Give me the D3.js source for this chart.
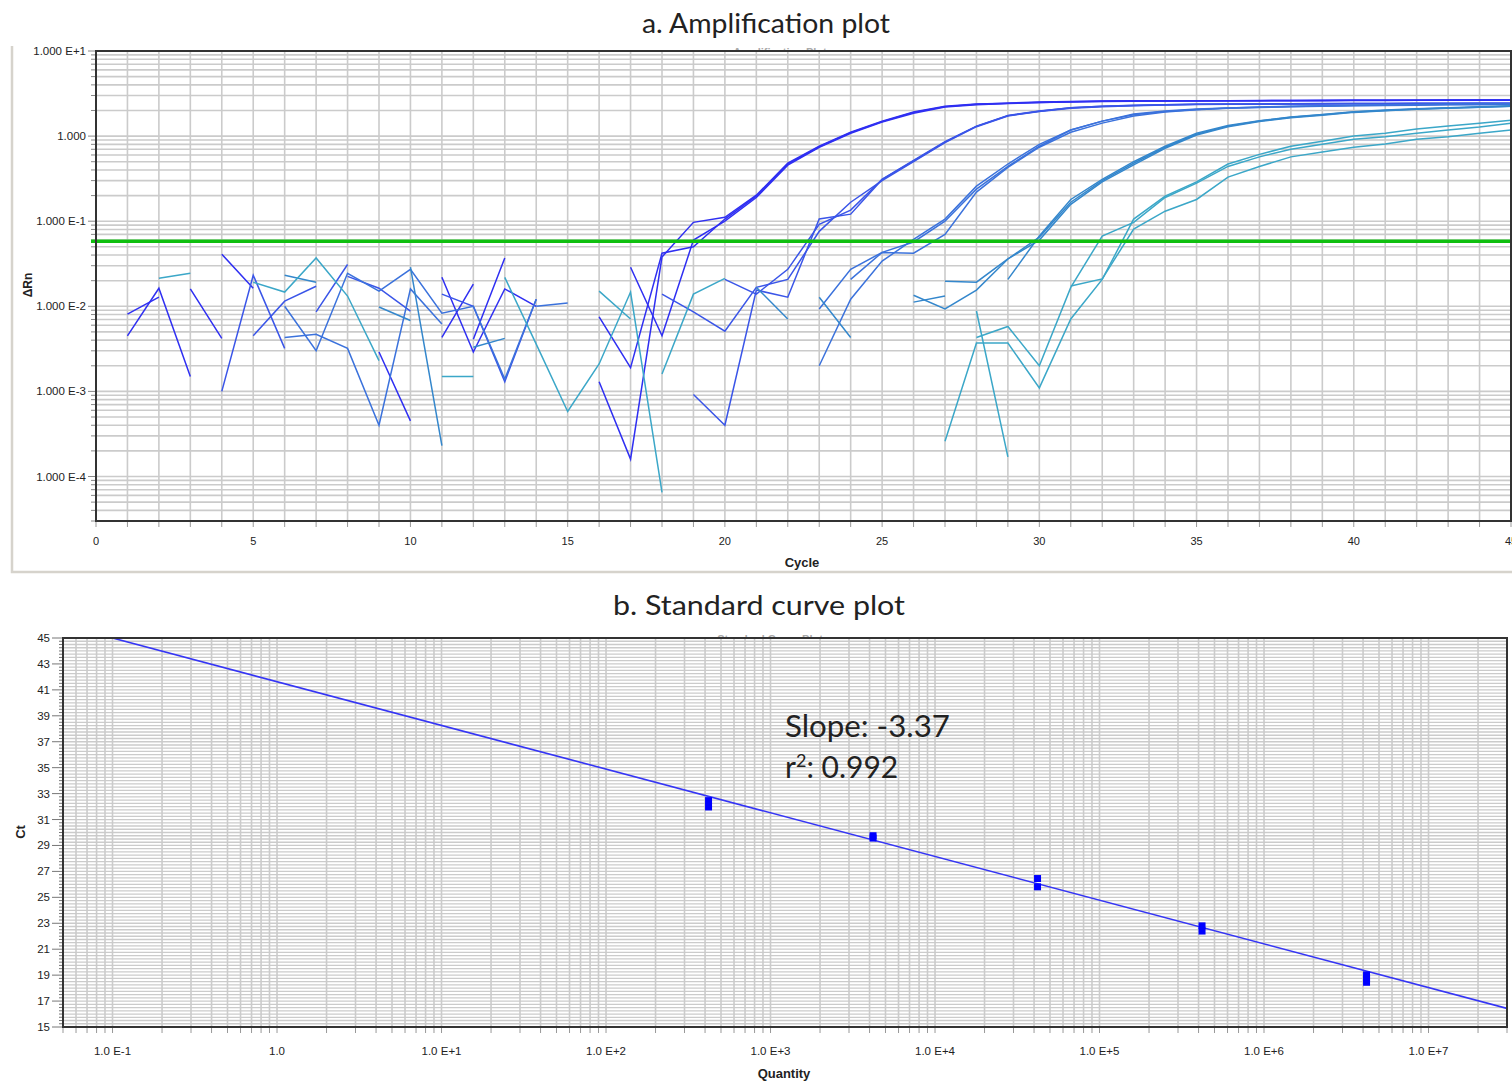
<!DOCTYPE html>
<html>
<head>
<meta charset="utf-8">
<script src="https://cdn.jsdelivr.net/npm/d3@7"></script>
<style>
  body { margin: 0; background: #fff; }
  svg { display: block; }
  .tick-label { font-family: "Liberation Sans", Arial, sans-serif; font-size: 11.5px; fill: #222; }
  .axis-title { font-family: "Liberation Sans", Arial, sans-serif; font-size: 13px; font-weight: bold; fill: #222; }
  .title { font-family: Lato, "Open Sans", sans-serif; font-size: 27px; fill: #222; }
</style>
</head>
<body>
<svg id="chart" width="1512" height="1082"></svg>
<script>
var _ = null;

// ---- a. amplification plot: delta Rn per cycle (1..45), null = not plotted (<= 0)
var cycles = d3.range(1, 46);
var threshold = 0.058;

var g1a = [0.0045,0.0163,0.0015,_,_,_,_,_,_,_, 0.0043,0.0182,_,_,_,0.0013,0.00016,0.038,0.097,0.111, 0.202,0.48,0.76,1.11,1.50,1.92,2.25,2.38,2.44,2.51, 2.55,2.58,2.60,2.60,2.61,2.61,2.62,2.62,2.63,2.63, 2.64,2.64,2.65,2.65,2.65];
var g1b = [0.0081,0.0128,_,0.041,0.0163,_,_,_,0.0029,0.00045, _,0.0041,0.037,_,_,_,0.0288,0.0045,0.060,0.100, 0.19,0.456,0.74,1.08,1.46,1.86,2.20,2.34,2.42,2.48, 2.52,2.55,2.57,2.58,2.59,2.60,2.60,2.61,2.61,2.62, 2.62,2.63,2.63,2.64,2.64];
var g1c = [_,_,0.016,0.0042,_,_,_,_,_,_, 0.0219,0.0029,0.016,0.0100,_,0.0075,0.0019,0.042,0.050,0.106, 0.197,0.47,0.75,1.10,1.48,1.90,2.22,2.36,2.43,2.49, 2.53,2.56,2.58,2.59,2.60,2.60,2.61,2.62,2.62,2.63, 2.63,2.64,2.64,2.65,2.65];
var g2a = [_,_,_,0.0010,0.0232,0.0032,_,0.0225,0.0163,0.0088, _,_,_,_,_,_,_,_,0.00092,0.0004, 0.0155,0.0128,0.106,0.121,0.31,0.52,0.86,1.31,1.75,1.97, 2.16,2.25,2.30,2.34,2.37,2.38,2.39,2.40,2.41,2.42, 2.42,2.43,2.43,2.44,2.44];
var g2b = [_,_,_,_,0.0045,0.0115,0.0172,_,_,_, 0.0139,0.0100,0.0013,0.0121,_,_,_,0.0139,0.0086,0.0051, 0.0167,0.0207,0.076,0.167,0.30,0.50,0.84,1.29,1.72,1.95, 2.13,2.22,2.28,2.32,2.35,2.36,2.37,2.38,2.39,2.40, 2.40,2.41,2.41,2.42,2.42];
var g2c = [_,_,_,_,_,_,0.0086,0.031,_,_, _,_,_,_,_,_,_,_,_,0.0207, 0.0139,0.0272,0.092,0.135,0.31,0.51,0.85,1.30,1.74,1.96, 2.15,2.24,2.29,2.33,2.36,2.37,2.38,2.39,2.40,2.41, 2.41,2.42,2.42,2.43,2.43];
var g3a = [_,_,_,_,_,0.0100,0.0030,0.0244,0.0151,0.0272, 0.0083,0.0100,0.0014,0.0121,_,_,_,_,_,_, _,_,0.0093,0.0272,0.043,0.057,0.100,0.238,0.44,0.76, 1.18,1.50,1.82,1.97,2.08,2.14,2.19,2.23,2.26,2.29, 2.31,2.33,2.35,2.36,2.37];
var g3b = [_,_,_,_,_,0.0043,0.0047,0.0032,0.0004,0.016, 0.0062,_,_,_,_,_,_,_,_,_, _,_,_,0.0207,0.043,0.042,0.070,0.22,0.43,0.74, 1.11,1.42,1.72,1.92,2.04,2.12,2.17,2.21,2.24,2.27, 2.29,2.31,2.33,2.34,2.35];
var g3c = [_,_,_,_,_,_,_,_,_,_, _,_,_,0.0100,0.0109,_,_,_,_,_, _,_,0.0020,0.0121,0.034,0.061,0.106,0.258,0.47,0.80, 1.18,1.50,1.78,1.95,2.06,2.14,2.20,2.24,2.28,2.31, 2.33,2.35,2.37,2.38,2.40];
var g4a = [_,_,_,_,_,_,_,_,0.0098,0.0068, _,0.0033,0.0042,_,_,_,_,_,_,_, _,_,_,_,_,0.0135,0.0093,0.0155,0.036,0.065, 0.167,0.30,0.48,0.74,1.05,1.31,1.50,1.66,1.78,1.92, 2.00,2.08,2.14,2.19,2.25];
var g4b = [_,_,_,_,_,0.0232,0.0192,_,_,0.0288, 0.00023,_,_,_,_,_,_,_,_,_, _,_,0.0128,0.0043,_,0.0112,0.0132,_,0.0207,0.067, 0.18,0.31,0.50,0.76,1.08,1.33,1.52,1.68,1.80,1.93, 2.02,2.10,2.16,2.21,2.27];
var g4c = [_,_,_,_,_,_,_,_,_,_, _,_,_,_,_,_,_,_,_,_, 0.0167,0.0071,_,_,_,_,0.0197,0.0192,0.036,0.060, 0.158,0.29,0.46,0.72,1.03,1.29,1.48,1.64,1.76,1.90, 1.99,2.07,2.13,2.18,2.24];
var g5a = [_,0.0213,0.0244,_,0.0192,0.0147,0.037,0.0132,0.0023,_, _,_,0.0219,0.0036,0.00058,0.0021,0.0147,0.000065,_,_, _,_,_,_,_,_,0.00026,0.0037,0.0037,0.0011, 0.0071,0.0207,0.106,0.197,0.29,0.47,0.61,0.76,0.87,1.00, 1.08,1.21,1.31,1.42,1.54];
var g5b = [_,_,_,_,_,_,_,_,_,_, 0.0015,0.0015,_,_,_,0.0151,0.0071,_,_,_, _,_,_,_,_,_,_,0.0088,0.00017,_, 0.0173,0.021,0.081,0.131,0.18,0.33,0.44,0.57,0.65,0.74, 0.81,0.92,0.98,1.08,1.18];
var g5c = [_,_,_,_,_,_,_,_,_,_, _,_,_,_,_,_,_,0.0016,0.0139,0.0213, _,_,_,_,_,_,_,0.0043,0.0058,0.0020, 0.0167,0.067,0.097,0.19,0.28,0.44,0.57,0.70,0.80,0.92, 0.98,1.08,1.18,1.28,1.42];

var curveGroups = [[g1a, g1b, g1c], [g2a, g2b, g2c], [g3a, g3b, g3c], [g4a, g4b, g4c], [g5a, g5b, g5c]];
var groupColors = ["#2f2ff2", "#3a55e8", "#3b72dc", "#3487cc", "#3ba7c8"];

var yTicksA = [10, 1, 0.1, 0.01, 0.001, 0.0001];
var yTickTextA = ["1.000 E+1", "1.000", "1.000 E-1", "1.000 E-2", "1.000 E-3", "1.000 E-4"];

// ---- b. standard curve
var stdQuantity = [4.2e2, 4.2e3, 4.2e4, 4.2e5, 4.2e6];
var stdCt = [[32.46, 31.97], [29.75, 29.57], [26.45, 25.81], [22.80, 22.40], [19.02, 18.74, 18.45]];
var slope = -3.37, intercept = 41.63, r2 = 0.992;
var xTicksB = [0.1, 1, 10, 100, 1e3, 1e4, 1e5, 1e6, 1e7];
var xTickTextB = ["1.0 E-1", "1.0", "1.0 E+1", "1.0 E+2", "1.0 E+3", "1.0 E+4", "1.0 E+5", "1.0 E+6", "1.0 E+7"];
var yTicksB = d3.range(15, 46, 2);

var svg = d3.select("#chart");
var gridColor = "#cbcbcb", axisColor = "#333";

// minor log positions inside a domain
function logMinors(lo, hi) {
  var out = [];
  for (var e = Math.floor(Math.log10(lo)); e <= Math.ceil(Math.log10(hi)); e++)
    for (var k = 1; k < 10; k++) {
      var v = k * Math.pow(10, e);
      if (v >= lo * 0.999 && v <= hi * 1.001) out.push(v);
    }
  return out;
}

// ================= PANEL A =================
var xA = d3.scaleLinear().domain([0, 45]).range([96, 1511]);
var yA = d3.scaleLog().domain([3e-5, 10]).range([521, 51]);

// light outer frame of the panel (left + bottom)
svg.append("path").attr("d", "M12,46V572H1512").attr("fill", "none")
  .attr("stroke", "#d6d3cc").attr("stroke-width", 2.5);

svg.append("text").attr("class", "title").attr("x", 642).attr("y", 33)
  .attr("textLength", 248).attr("lengthAdjust", "spacingAndGlyphs").text("a. Amplification plot");
// remains of the original heading, mostly hidden by the plot
svg.append("text").attr("x", 780).attr("y", 56).attr("text-anchor", "middle")
  .style("font", "bold 11px 'Liberation Sans'").attr("fill", "#aaa").text("Amplification Plot");

var pa = svg.append("g");
pa.append("rect").attr("x", 96).attr("y", 51).attr("width", 1415).attr("height", 470).attr("fill", "#fff");

var minorsA = logMinors(3e-5, 10);
pa.selectAll(".hgA").data(minorsA).enter().append("line")
  .attr("x1", 96).attr("x2", 1511).attr("y1", d => yA(d)).attr("y2", d => yA(d))
  .attr("stroke", gridColor).attr("stroke-width", 1.6);
pa.selectAll(".vgA").data(d3.range(1, 46)).enter().append("line")
  .attr("x1", d => xA(d)).attr("x2", d => xA(d)).attr("y1", 51).attr("y2", 521)
  .attr("stroke", gridColor).attr("stroke-width", 1.6);

// y ticks
pa.selectAll(".ytA").data(minorsA).enter().append("line")
  .attr("x1", d => yTicksA.indexOf(d) >= 0 ? 88 : 91).attr("x2", 96)
  .attr("y1", d => yA(d)).attr("y2", d => yA(d)).attr("stroke", "#888").attr("stroke-width", 1);
pa.selectAll(".ylA").data(yTicksA).enter().append("text").attr("class", "tick-label")
  .attr("x", 86).attr("y", d => yA(d)).attr("dy", "0.35em").attr("text-anchor", "end")
  .text((d, i) => yTickTextA[i]);

// x ticks
pa.selectAll(".xtA").data(d3.range(0, 46)).enter().append("line")
  .attr("x1", d => xA(d)).attr("x2", d => xA(d)).attr("y1", 521).attr("y2", 527)
  .attr("stroke", "#999").attr("stroke-width", 1);
pa.selectAll(".xlA").data(d3.range(0, 46, 5)).enter().append("text").attr("class", "tick-label")
  .attr("x", d => xA(d)).attr("y", 545).attr("text-anchor", "middle").style("font-size", "11px").text(d => d);

svg.append("text").attr("class", "axis-title").attr("x", 802).attr("y", 567)
  .attr("text-anchor", "middle").text("Cycle");
svg.append("text").attr("class", "axis-title").attr("transform", "translate(32,285) rotate(-90)")
  .attr("text-anchor", "middle").style("font-size", "12px").text("\u0394Rn");

// curves
svg.append("clipPath").attr("id", "clipA").append("rect")
  .attr("x", 96).attr("y", 51).attr("width", 1415).attr("height", 470);
var lineA = d3.line().defined(d => d != null).x((d, i) => xA(cycles[i])).y(d => yA(d));
curveGroups.forEach(function (grp, gi) {
  pa.append("g").attr("clip-path", "url(#clipA)").selectAll("path").data(grp).enter().append("path")
    .attr("d", lineA).attr("fill", "none").attr("stroke", groupColors[gi]).attr("stroke-width", 1.5);
});

// threshold
pa.append("line").attr("x1", 91).attr("x2", 1511).attr("y1", yA(threshold)).attr("y2", yA(threshold))
  .attr("stroke", "#10c010").attr("stroke-width", 3.5);

// frame
pa.append("path").attr("d", "M96,51H1511V521H96Z").attr("fill", "none")
  .attr("stroke", axisColor).attr("stroke-width", 2);

// ================= PANEL B =================
var xB = d3.scaleLog().domain([0.05, 3e7]).range([63, 1507]);
var yB = d3.scaleLinear().domain([15, 45]).range([1027, 638]);

svg.append("text").attr("class", "title").attr("x", 613).attr("y", 615)
  .attr("textLength", 292).attr("lengthAdjust", "spacingAndGlyphs").text("b. Standard curve plot");
svg.append("text").attr("x", 770).attr("y", 643).attr("text-anchor", "middle")
  .style("font", "bold 11px 'Liberation Sans'").attr("fill", "#aaa").text("Standard Curve Plot");

var pb = svg.append("g");
pb.append("rect").attr("x", 63).attr("y", 638).attr("width", 1444).attr("height", 389).attr("fill", "#fff");

var minorsB = logMinors(0.05, 3e7);
var ctGrid = d3.range(15, 45.01, 0.25);
pb.selectAll(".hgB").data(ctGrid).enter().append("line")
  .attr("x1", 63).attr("x2", 1507).attr("y1", d => yB(d)).attr("y2", d => yB(d))
  .attr("stroke", gridColor).attr("stroke-width", 1.3);
pb.selectAll(".vgB").data(minorsB).enter().append("line")
  .attr("x1", d => xB(d)).attr("x2", d => xB(d)).attr("y1", 638).attr("y2", 1027)
  .attr("stroke", gridColor).attr("stroke-width", 1.6);

// y ticks
pb.selectAll(".ytB").data(ctGrid).enter().append("line")
  .attr("x1", d => yTicksB.indexOf(d) >= 0 ? 52 : 59).attr("x2", 63)
  .attr("y1", d => yB(d)).attr("y2", d => yB(d)).attr("stroke", "#777").attr("stroke-width", 1);
pb.selectAll(".ylB").data(yTicksB).enter().append("text").attr("class", "tick-label")
  .attr("x", 50).attr("y", d => yB(d)).attr("dy", "0.35em").attr("text-anchor", "end").text(d => d);

// x ticks
pb.selectAll(".xtB").data(minorsB).enter().append("line")
  .attr("x1", d => xB(d)).attr("x2", d => xB(d)).attr("y1", 1027).attr("y2", 1033)
  .attr("stroke", "#999").attr("stroke-width", 1);
pb.selectAll(".xlB").data(xTicksB).enter().append("text").attr("class", "tick-label")
  .attr("x", d => xB(d)).attr("y", 1055).attr("text-anchor", "middle").text((d, i) => xTickTextB[i]);

svg.append("text").attr("class", "axis-title").attr("x", 784).attr("y", 1078)
  .attr("text-anchor", "middle").text("Quantity");
svg.append("text").attr("class", "axis-title").attr("transform", "translate(25,832) rotate(-90)")
  .attr("text-anchor", "middle").text("Ct");

// fitted line
svg.append("clipPath").attr("id", "clipB").append("rect")
  .attr("x", 63).attr("y", 638).attr("width", 1444).attr("height", 389);
var qStart = Math.pow(10, (45 - intercept) / slope);
var fitQ = [qStart, 3e7];
pb.append("path").attr("clip-path", "url(#clipB)")
  .attr("d", d3.line().x(d => xB(d)).y(d => yB(intercept + slope * Math.log10(d)))(fitQ))
  .attr("fill", "none").attr("stroke", "#3535f5").attr("stroke-width", 1.6);

// standards
var stdPoints = [];
stdQuantity.forEach((q, i) => stdCt[i].forEach(ct => stdPoints.push({q: q, ct: ct})));
pb.selectAll(".std").data(stdPoints).enter().append("rect")
  .attr("x", d => xB(d.q) - 3.5).attr("y", d => yB(d.ct) - 3.5)
  .attr("width", 7).attr("height", 7).attr("fill", "#0000ff");

// frame
pb.append("path").attr("d", "M63,638H1507V1027H63Z").attr("fill", "none")
  .attr("stroke", axisColor).attr("stroke-width", 2);

// fit statistics
var stats = svg.append("g").attr("class", "title").style("font-size", "30px");
stats.append("text").attr("x", 785).attr("y", 737).attr("textLength", 165)
  .attr("lengthAdjust", "spacingAndGlyphs").text("Slope: " + slope.toFixed(2));
var r2t = stats.append("text").attr("x", 785).attr("y", 778);
r2t.append("tspan").text("r");
r2t.append("tspan").attr("dy", -11).style("font-size", "18px").text("2");
r2t.append("tspan").attr("dy", 11).text(": " + r2);
</script>
</body>
</html>
